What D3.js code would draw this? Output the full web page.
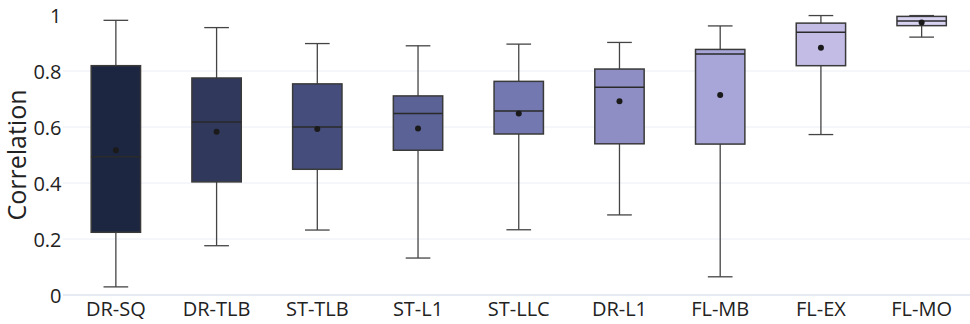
<!DOCTYPE html>
<meta charset="utf-8">
<style>
body { margin: 0; background: #fff; }
text { font-family: "Open Sans", sans-serif; fill: #222; }
.grid line { stroke: #eceef4; stroke-width: 1; }
.zero { stroke: #e6ebf3; stroke-width: 2; }
</style>
<svg width="970" height="324"></svg>
<script src="https://d3js.org/d3.v7.min.js"></script>
<script>

// values
var categories = ["DR-SQ", "DR-TLB", "ST-TLB", "ST-L1", "ST-LLC", "DR-L1", "FL-MB", "FL-EX", "FL-MO"];
var lowerFence = [0.029, 0.176, 0.232, 0.132, 0.233, 0.286, 0.065, 0.573, 0.921];
var q1         = [0.224, 0.404, 0.449, 0.517, 0.575, 0.540, 0.539, 0.819, 0.962];
var median     = [0.494, 0.618, 0.600, 0.648, 0.657, 0.742, 0.861, 0.938, 0.979];
var mean       = [0.517, 0.583, 0.593, 0.595, 0.648, 0.692, 0.714, 0.883, 0.973];
var q3         = [0.819, 0.775, 0.754, 0.711, 0.763, 0.807, 0.877, 0.971, 0.995];
var upperFence = [0.981, 0.955, 0.898, 0.890, 0.896, 0.902, 0.961, 0.998, 0.998];
var colors = ["#1d2640", "#30395c", "#454d7c", "#5b6295", "#7478b0", "#8e8ec4", "#a8a6d8", "#c3bde6", "#d9d3f2"];
var yTicks = [0, 0.2, 0.4, 0.6, 0.8, 1];

var data = categories.map(function(c, i) {
  return {name: c, lo: lowerFence[i], q1: q1[i], med: median[i], mean: mean[i],
          q3: q3[i], hi: upperFence[i], color: colors[i]};
});

var svg = d3.select("svg");

var x = d3.scaleBand().domain(categories).range([65.5, 972]).padding(0),
    y = d3.scaleLinear().domain([0, 1]).range([295, 15]);

var boxW = x.bandwidth() * 0.49,
    capW = boxW / 2;

// grid
svg.append("g")
    .attr("class", "grid")
  .selectAll("line")
  .data(yTicks.filter(function(t) { return t > 0 && t < 1; }))
  .enter().append("line")
    .attr("x1", 63).attr("x2", 970)
    .attr("y1", function(d) { return y(d); })
    .attr("y2", function(d) { return y(d); });

svg.append("line")
    .attr("class", "zero")
    .attr("x1", 63).attr("x2", 970)
    .attr("y1", y(0)).attr("y2", y(0));

// y axis labels
var yAxis = svg.append("g")
    .attr("transform", "translate(63,0)")
    .call(d3.axisLeft(y).tickValues(yTicks).tickSize(0).tickPadding(1.5)
      .tickFormat(function(d) { return d3.format("~g")(d); }));
yAxis.select(".domain").remove();
yAxis.selectAll("text").style("font-size", "20px").attr("fill", "#222").attr("dy", "0.38em");

// x axis labels
var xAxis = svg.append("g")
    .attr("transform", "translate(0,302)")
    .call(d3.axisBottom(x).tickSize(0).tickPadding(0));
xAxis.select(".domain").remove();
xAxis.selectAll("text").style("font-size", "20px").attr("fill", "#222");

svg.append("text")
    .attr("transform", "translate(25.5,155) rotate(-90)")
    .attr("text-anchor", "middle")
    .style("font-size", "25px")
    .text("Correlation");

var box = svg.selectAll(".box")
  .data(data)
  .enter().append("g")
    .attr("class", "box")
    .attr("transform", function(d) { return "translate(" + (x(d.name) + x.bandwidth() / 2) + ",0)"; });

// whiskers
box.append("line")
    .attr("x1", 0).attr("x2", 0)
    .attr("y1", function(d) { return y(d.hi); })
    .attr("y2", function(d) { return y(d.lo); })
    .attr("stroke", "#444").attr("stroke-width", 1.3);

box.selectAll(".cap")
  .data(function(d) { return [d.lo, d.hi]; })
  .enter().append("line")
    .attr("x1", -capW / 2).attr("x2", capW / 2)
    .attr("y1", function(v) { return y(v); })
    .attr("y2", function(v) { return y(v); })
    .attr("stroke", "#444").attr("stroke-width", 1.3);

box.append("rect")
    .attr("x", -boxW / 2)
    .attr("width", boxW)
    .attr("y", function(d) { return y(d.q3); })
    .attr("height", function(d) { return y(d.q1) - y(d.q3); })
    .attr("fill", function(d) { return d.color; })
    .attr("stroke", "#3a3a3a").attr("stroke-width", 1.5);

box.append("line")
    .attr("x1", -boxW / 2).attr("x2", boxW / 2)
    .attr("y1", function(d) { return y(d.med); })
    .attr("y2", function(d) { return y(d.med); })
    .attr("stroke", "#2a2a2a").attr("stroke-width", 1.5);

box.append("circle")
    .attr("cy", function(d) { return y(d.mean); })
    .attr("r", 3)
    .attr("fill", "#1a1a1a");

</script>
